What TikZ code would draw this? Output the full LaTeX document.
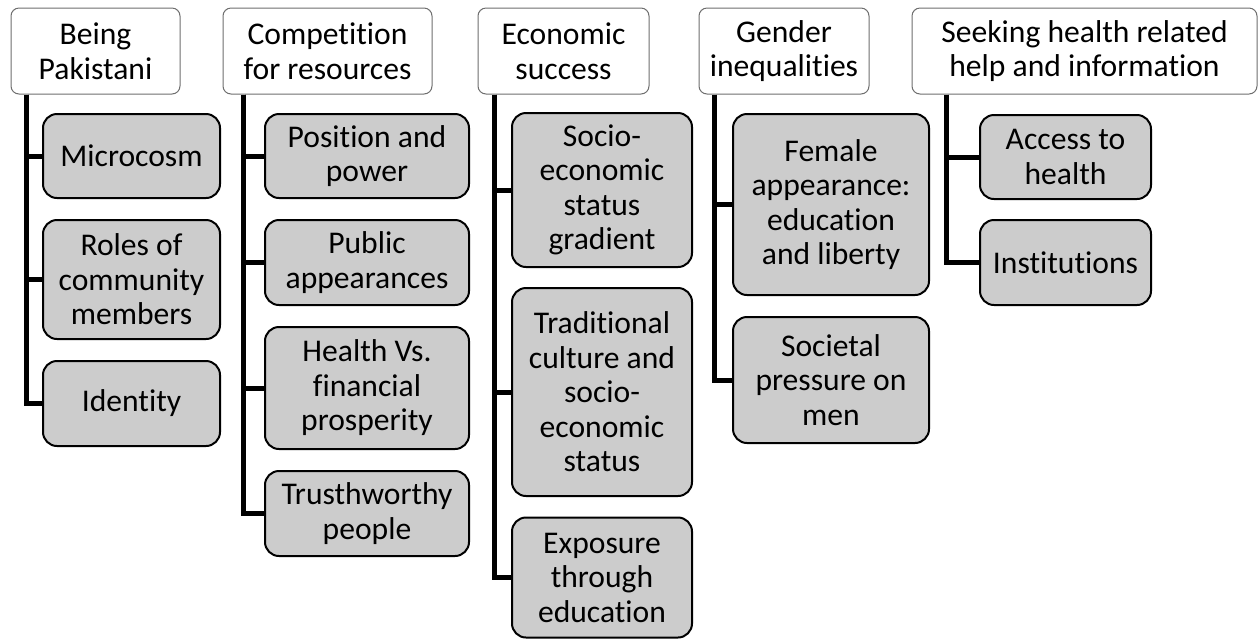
\documentclass[tikz,border=0pt]{standalone}
\usepackage{fontspec}
\setmainfont{Carlito}[Ligatures=NoCommon]
\usepackage{xcolor}
\usepackage{tikz}
\usetikzlibrary{positioning}

\definecolor{boxgray}{RGB}{204,204,204}
\definecolor{rimgray}{RGB}{110,110,110}

\tikzset{
  theme/.style={draw=rimgray, line width=0.5pt, fill=white, rounded corners=4pt,
    align=center, inner sep=0pt},
  subtheme/.style={draw=black, line width=1pt, fill=boxgray, rounded corners=7pt,
    align=center, inner sep=0pt},
  trunk/.style={line width=2.5pt, black}
}

\begin{document}
\begin{tikzpicture}[x=0.5pt, y=-0.5pt, font=\fontsize{15.8pt}{17.25pt}\selectfont]
  % scale: 1 unit = 1 px, y grows downwards
  \useasboundingbox (0,0) rectangle (1260,639);

  % themes
  \node[theme, minimum width=84.5pt, minimum height=43pt]  (pak)  at (95.5,51)   {Being\\Pakistani};
  \node[theme, minimum width=104.5pt, minimum height=43pt] (comp) at (327.5,51)  {Competition\\for resources};
  \node[theme, minimum width=85.5pt, minimum height=43pt]  (econ) at (563.5,51)  {Economic\\success};
  \node[theme, minimum width=85pt, minimum height=43pt]    (gend) at (784,51)    {Gender\\inequalities};
  \node[theme, minimum width=172.5pt, minimum height=43pt] (help) at (1084.5,51) {Seeking health related\\help and information};

  % sub-themes
  \node[subtheme, minimum width=88.5pt, minimum height=42pt]  (micro) at (131.5,156)   {Microcosm};
  \node[subtheme, minimum width=88.5pt, minimum height=59.5pt] (roles) at (131.5,279.5) {Roles of\\community\\members};
  \node[subtheme, minimum width=88.5pt, minimum height=42.5pt] (ident) at (131.5,403.5) {Identity};

  \node[subtheme, minimum width=102pt, minimum height=42pt]   (power) at (367,156)   {Position and\\power};
  \node[subtheme, minimum width=102pt, minimum height=42.5pt] (publ)  at (367,262.5) {Public\\appearances};
  \node[subtheme, minimum width=102pt, minimum height=61pt]   (vs)    at (367,388)   {Health Vs.\\financial\\prosperity};
  \node[subtheme, minimum width=102pt, minimum height=42.5pt] (trust) at (367,513.5) {Trusthworthy\\people};

  \node[subtheme, minimum width=90pt, minimum height=77pt]  (grad) at (602,190)   {Socio-\\economic\\status\\gradient};
  \node[subtheme, minimum width=90pt, minimum height=104pt] (trad) at (602,392)   {Traditional\\culture and\\socio-\\economic\\status};
  \node[subtheme, minimum width=90pt, minimum height=60pt]  (expo) at (602,577.5) {Exposure\\through\\education};

  \node[subtheme, minimum width=98pt, minimum height=90.5pt] (fem) at (831,204.5) {Female\\appearance:\\education\\and liberty};
  \node[subtheme, minimum width=98pt, minimum height=63pt]   (men) at (831,380)   {Societal\\pressure on\\men};

  \node[subtheme, minimum width=85.5pt, minimum height=42pt]   (access) at (1065.5,157)   {Access to\\health};
  \node[subtheme, minimum width=85.5pt, minimum height=42.5pt] (inst)   at (1065.5,262.5) {Institutions};

  % trunks and branches
  \foreach \parent/\off/\kids in {pak/8pt/{micro,roles,ident}, comp/10.5pt/{power,publ,vs,trust},
      econ/8.5pt/{grad,trad,expo}, gend/8pt/{fem,men}, help/17.5pt/{access,inst}}
    \foreach \kid in \kids
      \draw[trunk] ([xshift=\off]\parent.south west) |- (\kid.west);
\end{tikzpicture}
\end{document}
